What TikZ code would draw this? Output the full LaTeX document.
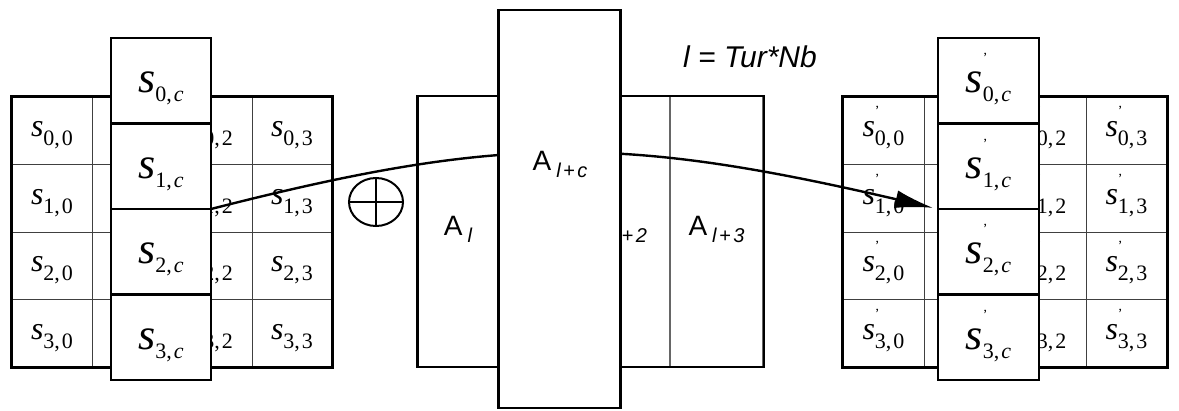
\documentclass[tikz,border=0pt]{standalone}
\usepackage{fontspec}
\setmainfont{Liberation Serif}
\setsansfont{Liberation Sans}
\usepackage{tikz}
\usetikzlibrary{arrows.meta,positioning,shapes.geometric}
\newcommand\lowsub[1]{\raisebox{-9pt}{\fontsize{22}{22}\selectfont #1}}
\newcommand\sval[2]{\textit{s}\lowsub{#1,\hspace{2pt}#2}}
\newcommand\svalp[3][21pt]{\textit{s}\rlap{\raisebox{#1}{\fontsize{14}{14}\selectfont '}}\lowsub{#2,\hspace{2pt}#3}}
\newcommand\alab[1]{{\sffamily\fontsize{28}{28}\selectfont A}\hspace{5pt}\raisebox{-7pt}{\sffamily\itshape\fontsize{20}{20}\selectfont #1}}

\begin{document}
\begin{tikzpicture}[x=1pt,y=-1pt,
  cell/.style={draw=black!75,line width=1pt,minimum height=67.5pt,inner sep=0pt,font=\fontsize{32}{32}\selectfont,text height=22pt,text depth=10pt},
  cbox/.style={draw,fill=white,line width=2.4pt,minimum height=85.5pt,inner sep=0pt,outer sep=0pt,font=\fontsize{44}{44}\selectfont,text height=30pt,text depth=6pt},
  acell/.style={draw=black!60,line width=1.4pt,minimum height=270pt,inner sep=0pt,text height=20pt,text depth=12pt},
  frame/.style={line width=2.4pt}]
\useasboundingbox (0,0) rectangle (1179,410);
% state before
\foreach \r in {0,...,3}{\foreach \c in {0,...,3}{
  \node[cell,minimum width=80pt] (l\r\c) at (52+80*\c,130.75+67.5*\r) {\ifnum\c=1 \else\sval{\r}{\c}\fi};}}
\draw[frame] (l00.north west) rectangle (l33.south east);
\node[cbox,minimum width=100pt] (lc0) at (161,80.75) {\sval{0}{\textit{c}}};
\node[cbox,minimum width=100pt,below=0pt of lc0] (lc1) {\sval{1}{\textit{c}}};
\node[cbox,minimum width=100pt,below=0pt of lc1] (lc2) {\sval{2}{\textit{c}}};
\node[cbox,minimum width=100pt,below=0pt of lc2] (lc3) {\sval{3}{\textit{c}}};
% state after
\foreach \r in {0,...,3}{\foreach \c in {0,...,3}{
  \node[cell,minimum width=81pt] (r\r\c) at (883.5+81*\c,130.75+67.5*\r) {\ifnum\c=1 \else\svalp{\r}{\c}\fi};}}
\draw[frame] (r00.north west) rectangle (r33.south east);
\node[cbox,minimum width=101pt] (rc0) at (988.5,80.75) {\svalp[30pt]{0}{\textit{c}}};
\node[cbox,minimum width=101pt,below=0pt of rc0] (rc1) {\svalp[30pt]{1}{\textit{c}}};
\node[cbox,minimum width=101pt,below=0pt of rc1] (rc2) {\svalp[30pt]{2}{\textit{c}}};
\node[cbox,minimum width=101pt,below=0pt of rc2] (rc3) {\svalp[30pt]{3}{\textit{c}}};
% round key words
\node[acell,minimum width=80pt] (a0) at (458,231.5) {\alab{l}};
\node[acell,minimum width=102pt] (a2) at (619,231.5) {\alab{l\hspace{2.5pt}+\hspace{2.5pt}2}};
\node[acell,minimum width=93pt] (a3) at (716.5,231.5) {\alab{l\hspace{2.5pt}+\hspace{2.5pt}3}};
\draw[frame] (a0.north west) rectangle (a3.south east);
\node[draw,ellipse,line width=2pt,minimum width=54pt,minimum height=48pt,inner sep=0pt] (xr) at (376,202) {};
\draw[line width=2pt] (xr.north)--(xr.south) (xr.west)--(xr.east);
\draw[line width=2.4pt,-{Latex[length=38pt,width=18pt]},shorten >=5pt] (lc1.south east) .. controls (500,135) and (620,135) .. (rc1.south west);
\node[draw,fill=white,line width=2.4pt,minimum width=122pt,minimum height=398pt,outer sep=0pt] (ac) at (559.5,209) {};
\node[anchor=base] (aclab) at (560,170) {\alab{l\hspace{2.5pt}+\hspace{2.5pt}c}};
\node[font=\sffamily\itshape\fontsize{30}{30}\selectfont] (eq) at (750,57) {l = Tur*Nb};
\end{tikzpicture}
\end{document}
